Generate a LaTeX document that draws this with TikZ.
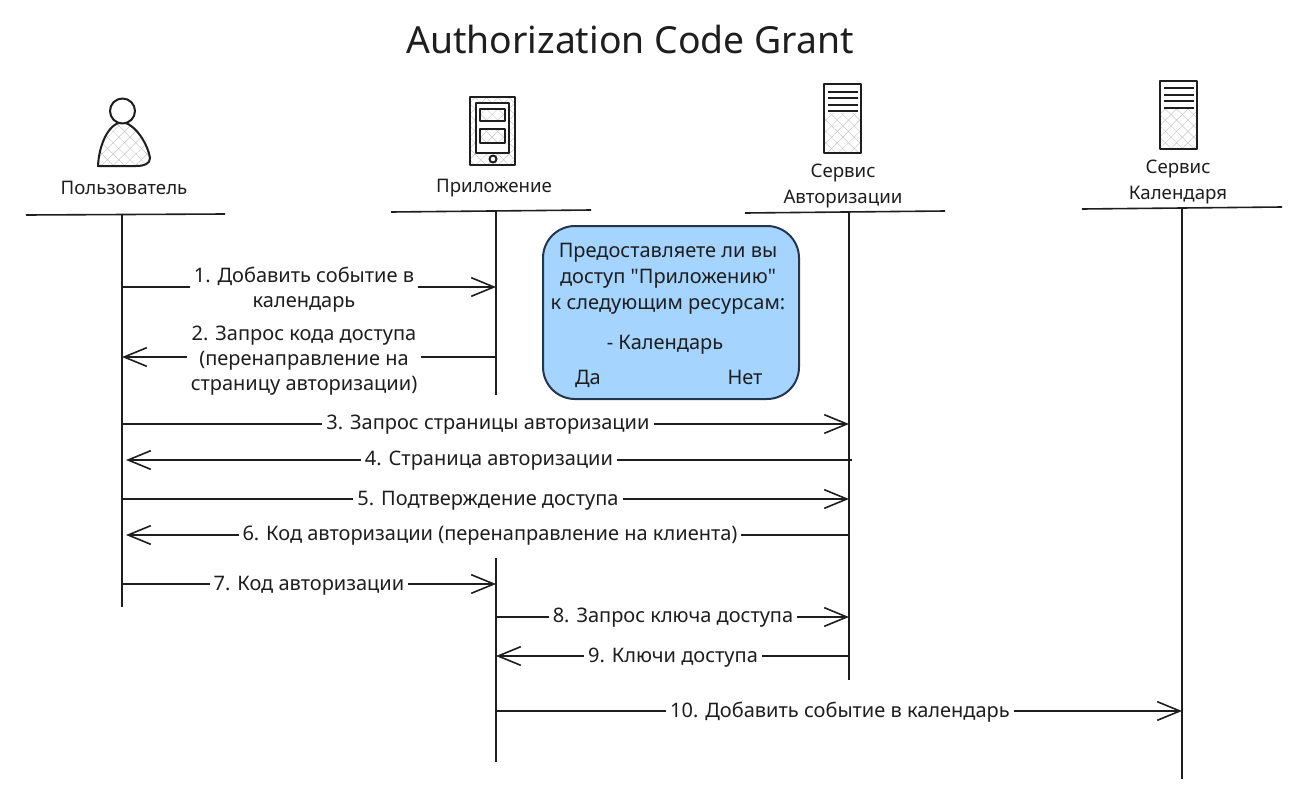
\documentclass[tikz,border=0pt]{standalone}
\usepackage{fontspec}
\setmainfont{Noto Sans}
\newfontfamily\rawquote{Noto Sans}
\usetikzlibrary{arrows.meta,patterns.meta}
\definecolor{ink}{HTML}{1E1E1E}
\definecolor{callout}{HTML}{A5D4FF}
\definecolor{calloutedge}{HTML}{24364F}
\tikzset{
  x=0.75pt,y=-0.75pt,
  every node/.style={text=ink,inner sep=0pt,outer sep=0pt},
  hatch/.style={
    preaction={pattern={Lines[angle=45,distance=6pt,line width=.35pt]},pattern color=black!22},
    preaction={pattern={Lines[angle=-45,distance=6pt,line width=.35pt]},pattern color=black!22}},
  icon/.style={draw=ink,line width=1.5pt,line join=round},
  rule/.style={draw=ink,line width=1.2pt},
  msg/.style={draw=ink,line width=1.2pt,-{Straight Barb[length=17pt,width=14pt,line width=1.2pt]}},
  lbl/.style={fill=white,font=\fontsize{15pt}{18.8pt}\selectfont,align=center,inner xsep=3pt,inner ysep=1pt},
  actor/.style={font=\fontsize{14pt}{18.8pt}\selectfont,align=center},
  boxtext/.style={font=\fontsize{15pt}{19.6pt}\selectfont,align=center},
}
\begin{document}
\begin{tikzpicture}
\useasboundingbox (0,0) rectangle (1308,799);
\fill[white] (0,0) rectangle (1308,799);

\node[font=\fontsize{28pt}{34pt}\selectfont] (title) at (630,40) {Authorization Code Grant};

% icons
\draw[icon,hatch] (98,166) .. controls (99,145) and (108,124) .. (122,122)
  .. controls (136,124) and (148,145) .. (150,158)
  .. controls (150,164) and (144,166) .. (136,166) -- cycle;
\draw[icon,hatch,fill=white] (122.5,111) circle (12.5);

\draw[icon,hatch] (470,97) rectangle (515,165);
\draw[icon,fill=white] (476,103) rectangle (509,153);
\draw[icon,hatch] (480,109) rectangle (505,121);
\draw[icon,hatch] (480,129) rectangle (505,143);
\draw[icon,fill=white] (493,159) circle (3.5);

\draw[icon,hatch] (824,84) rectangle (861,153);
\fill[white] (825,85) rectangle (860,113);
\foreach \yy in {92,98,105,111} \draw[ink,line width=1.6pt] (828,\yy) -- (858,\yy);

\draw[icon,hatch] (1160,81) rectangle (1197,149);
\fill[white] (1161,82) rectangle (1196,109);
\foreach \yy in {88,95,101,108} \draw[ink,line width=1.6pt] (1164,\yy) -- (1194,\yy);

% actor labels
\node[actor] (user) at (124,188) {Пользователь};
\node[actor] (app) at (494,188) {Приложение};
\node[actor] (auth) at (843,186) {Сервис\\Авторизации};
\node[actor] (cal) at (1178,182) {Сервис\\Календаря};

% header rules
\coordinate (hu1) at (26,215); \coordinate (hu2) at (225,214);
\coordinate (ha1) at (391,212); \coordinate (ha2) at (591,210);
\coordinate (hs1) at (745,213); \coordinate (hs2) at (945,211);
\coordinate (hc1) at (1082,209); \coordinate (hc2) at (1282,207);
\draw[rule] (hu1) -- (hu2);
\draw[rule] (ha1) -- (ha2);
\draw[rule] (hs1) -- (hs2);
\draw[rule] (hc1) -- (hc2);

% lifelines
\coordinate (lu1) at (122,215); \coordinate (lu2) at (122,607);
\coordinate (la1) at (496,211); \coordinate (la2) at (496,395);
\coordinate (la3) at (496,558); \coordinate (la4) at (496,762);
\coordinate (ls1) at (849,212); \coordinate (ls2) at (849,680);
\coordinate (lc1) at (1182,208); \coordinate (lc2) at (1182,779);
\draw[rule] (lu1) -- (lu2);
\draw[rule] (la1) -- (la2);
\draw[rule] (la3) -- (la4);
\draw[rule] (ls1) -- (ls2);
\draw[rule] (lc1) -- (lc2);

% callout
\node[draw=calloutedge,fill=callout,line width=1.5pt,rounded corners=24pt,
      minimum width=192pt,minimum height=129.75pt] (box) at (671,312.5) {};
\node[boxtext] (q) at (668,279) {Предоставляете ли вы\\доступ {\rawquote"}Приложению{\rawquote"}\\к следующим ресурсам:};
\node[boxtext] (res) at (665,345) {- Календарь};
\node[boxtext] (yes) at (588,379) {Да};
\node[boxtext] (no) at (745,377) {Нет};

% messages
\coordinate (m1a) at (122,287); \coordinate (m1b) at (496,287);
\coordinate (m2a) at (496,357); \coordinate (m2b) at (122,357);
\coordinate (m3a) at (122,424); \coordinate (m3b) at (849,424);
\coordinate (m4a) at (852,460); \coordinate (m4b) at (126,460);
\coordinate (m5a) at (122,499); \coordinate (m5b) at (849,499);
\coordinate (m6a) at (850,535); \coordinate (m6b) at (126,535);
\coordinate (m7a) at (122,584); \coordinate (m7b) at (496,584);
\coordinate (m8a) at (496,617); \coordinate (m8b) at (849,617);
\coordinate (m9a) at (849,656); \coordinate (m9b) at (496,656);
\coordinate (m10a) at (496,711); \coordinate (m10b) at (1182,711);
\foreach \n in {1,...,10} \draw[msg] (m\n a) -- (m\n b);

\node[lbl] (t1) at (304,290) {1. Добавить событие в\\календарь};
\node[lbl] (t2) at (304,361) {2. Запрос кода доступа\\(перенаправление на\\страницу авторизации)};
\node[lbl] (t3) at (488,425) {3. Запрос страницы авторизации};
\node[lbl] (t4) at (489,461) {4. Страница авторизации};
\node[lbl] (t5) at (488,501) {5. Подтверждение доступа};
\node[lbl] (t6) at (490,536) {6. Код авторизации (перенаправление на клиента)};
\node[lbl] (t7) at (309,586) {7. Код авторизации};
\node[lbl] (t8) at (673,618) {8. Запрос ключа доступа};
\node[lbl] (t9) at (673,658) {9. Ключи доступа};
\node[lbl] (t10) at (840,712) {10. Добавить событие в календарь};
\end{tikzpicture}
\end{document}
